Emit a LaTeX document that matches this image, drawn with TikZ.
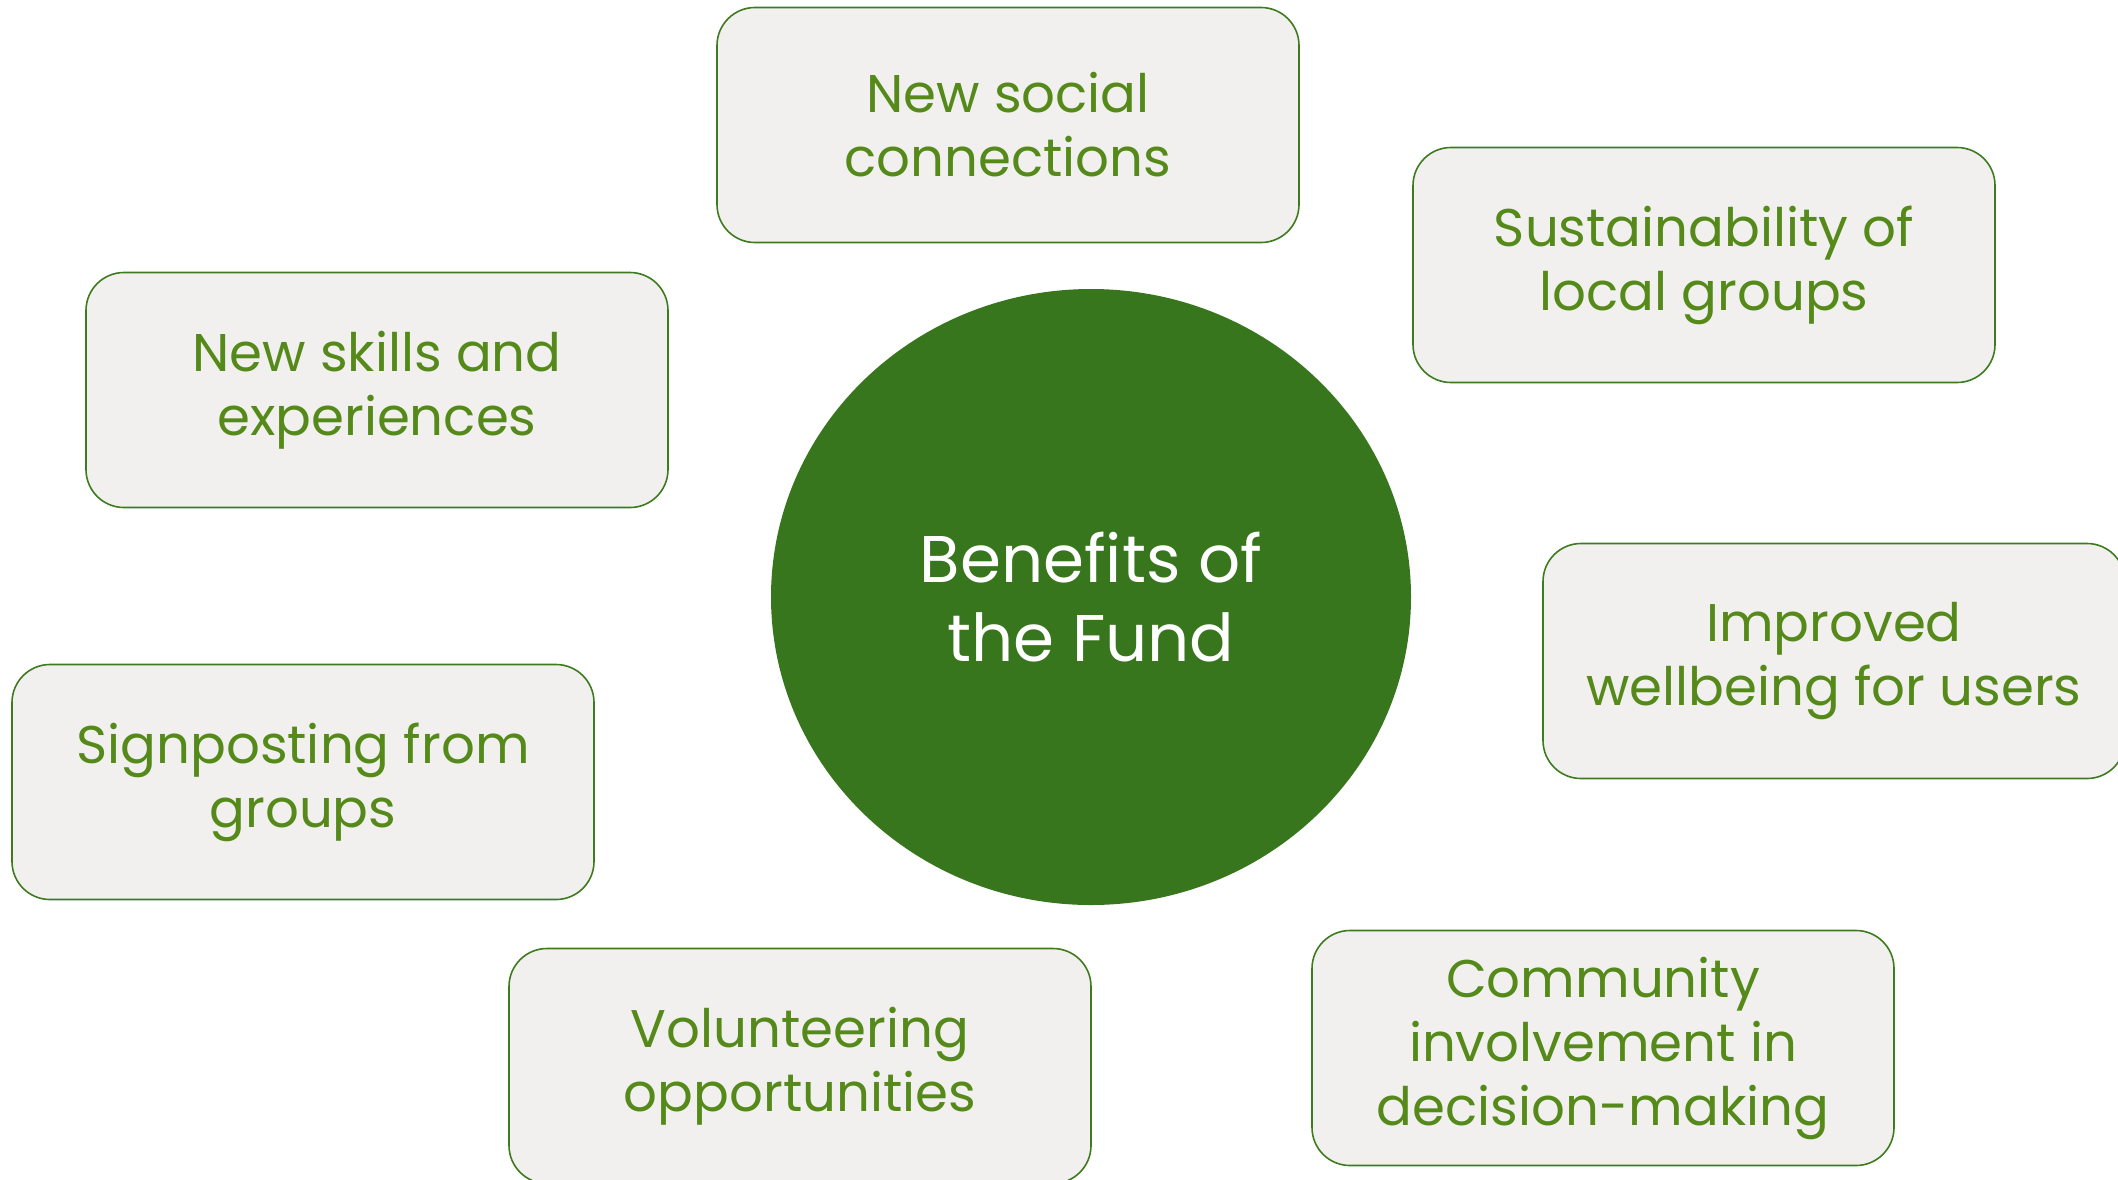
\documentclass[tikz,border=0pt]{standalone}
\usepackage{fontspec}
\setmainfont{Poppins}
\usepackage{tikz}
\usetikzlibrary{shapes.geometric}

\definecolor{fundgreen}{HTML}{38761D}
\definecolor{boxline}{HTML}{3E7B1F}
\definecolor{boxtext}{HTML}{558A1A}
\definecolor{boxfill}{HTML}{F1F0EE}

\begin{document}
\begin{tikzpicture}[
		x=1pt, y=-1pt,
		benefit/.style = {shape=rectangle, draw=boxline, line width=1.6pt, fill=boxfill,
			rounded corners=38pt, minimum width=582pt, minimum height=235pt, inner sep=0pt,
			align=center, text=boxtext, font=\fontsize{53}{64}\selectfont},
		hub/.style = {shape=ellipse, fill=fundgreen, minimum width=640pt, minimum height=616pt,
			inner sep=0pt, align=center, text=white, font=\fontsize{66}{79}\selectfont}]
		\useasboundingbox (0,0) rectangle (2118,1179);
		\node[hub] (fund) at (1091,597) {Benefits of\\the Fund};
		\node[benefit] (social) at (1008,125) {New social\\connections};
		\node[benefit] (sustain) at (1704,265) {Sustainability of\\local groups};
		\node[benefit] (skills) at (377,390) {New skills and\\experiences};
		\node[benefit] (wellbeing) at (1834,661) {Improved\\wellbeing for users};
		\node[benefit] (signpost) at (303,782) {Signposting from\\groups};
		\node[benefit] (volunteer) at (800,1066) {Volunteering\\opportunities};
		\node[benefit] (community) at (1603,1048) {Community\\involvement in\\decision-making};
	\end{tikzpicture}
\end{document}
